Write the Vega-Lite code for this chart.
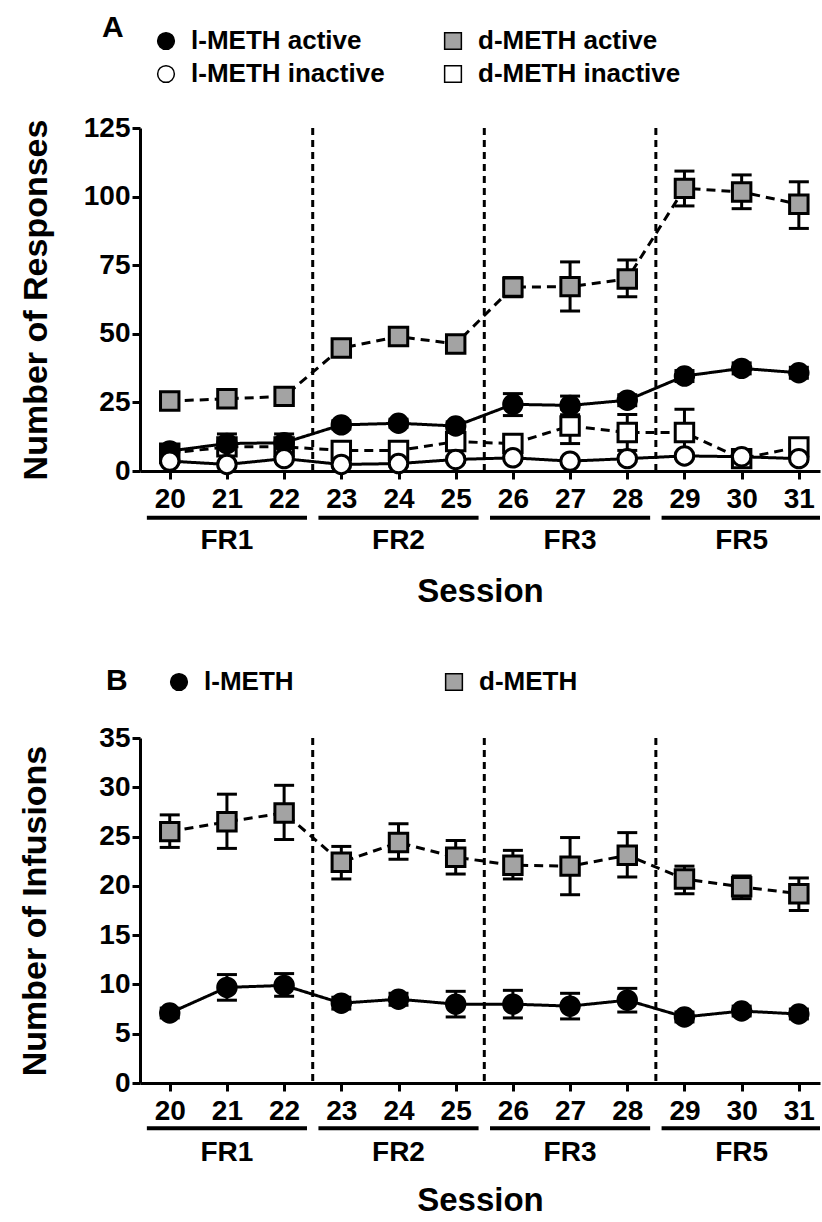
{
  "$schema": "https://vega.github.io/schema/vega-lite/v6.json",
  "padding": {"left": 18, "top": 13, "right": 0, "bottom": 0},
  "background": "white",
  "config": {
    "font": "Liberation Sans",
    "view": {"stroke": null},
    "axis": {"domainColor": "black", "domainWidth": 3, "tickColor": "black", "tickWidth": 3, "tickSize": 8, "grid": false, "labelFont": "Liberation Sans", "labelFontSize": 28, "labelFontWeight": "bold", "labelColor": "black", "titleFont": "Liberation Sans", "titleFontWeight": "bold", "titleColor": "black"},
    "legend": {"labelFont": "Liberation Sans", "labelFontSize": 26, "labelFontWeight": "bold", "labelColor": "black", "symbolSize": 280, "labelOffset": 12, "labelLimit": 400, "symbolOpacity": 1},
    "title": {"font": "Liberation Sans", "fontSize": 30, "fontWeight": "bold", "color": "black", "anchor": "start", "frame": "group"}
  },
  "datasets": {
    "dividers": [{"session": 22.5}, {"session": 25.5}, {"session": 28.5}],
    "phases": [
      {"phase": "FR1", "session": 21, "start": 19.6, "end": 22.4},
      {"phase": "FR2", "session": 24, "start": 22.6, "end": 25.4},
      {"phase": "FR3", "session": 27, "start": 25.6, "end": 28.4},
      {"phase": "FR5", "session": 30, "start": 28.6, "end": 31.37}
    ],
    "A": [
      {"session": 20, "series": "d-METH inactive", "drug": "d", "mean": 6.5, "lo": 5.0, "hi": 8.0},
      {"session": 21, "series": "d-METH inactive", "drug": "d", "mean": 8.8, "lo": 6.8, "hi": 10.8},
      {"session": 22, "series": "d-METH inactive", "drug": "d", "mean": 8.8, "lo": 6.8, "hi": 10.8},
      {"session": 23, "series": "d-METH inactive", "drug": "d", "mean": 7.5, "lo": 5.5, "hi": 9.5},
      {"session": 24, "series": "d-METH inactive", "drug": "d", "mean": 7.5, "lo": 5.5, "hi": 9.5},
      {"session": 25, "series": "d-METH inactive", "drug": "d", "mean": 10.7, "lo": 8.7, "hi": 12.7},
      {"session": 26, "series": "d-METH inactive", "drug": "d", "mean": 10.0, "lo": 8.0, "hi": 12.0},
      {"session": 27, "series": "d-METH inactive", "drug": "d", "mean": 16.4, "lo": 10.0, "hi": 22.5},
      {"session": 28, "series": "d-METH inactive", "drug": "d", "mean": 14.0, "lo": 7.5, "hi": 20.6},
      {"session": 29, "series": "d-METH inactive", "drug": "d", "mean": 14.0, "lo": 5.5, "hi": 22.5},
      {"session": 30, "series": "d-METH inactive", "drug": "d", "mean": 4.5, "lo": 1.5, "hi": 7.0},
      {"session": 31, "series": "d-METH inactive", "drug": "d", "mean": 8.8, "lo": 7.8, "hi": 9.8},
      {"session": 20, "series": "d-METH active", "drug": "d", "mean": 25.5, "lo": 24.0, "hi": 27.0},
      {"session": 21, "series": "d-METH active", "drug": "d", "mean": 26.3, "lo": 24.5, "hi": 28.1},
      {"session": 22, "series": "d-METH active", "drug": "d", "mean": 27.2, "lo": 25.2, "hi": 29.2},
      {"session": 23, "series": "d-METH active", "drug": "d", "mean": 44.8, "lo": 42.8, "hi": 46.8},
      {"session": 24, "series": "d-METH active", "drug": "d", "mean": 49.0, "lo": 47.5, "hi": 50.5},
      {"session": 25, "series": "d-METH active", "drug": "d", "mean": 46.3, "lo": 44.3, "hi": 48.3},
      {"session": 26, "series": "d-METH active", "drug": "d", "mean": 67.0, "lo": 63.5, "hi": 70.5},
      {"session": 27, "series": "d-METH active", "drug": "d", "mean": 67.2, "lo": 58.3, "hi": 76.2},
      {"session": 28, "series": "d-METH active", "drug": "d", "mean": 70.0, "lo": 63.5, "hi": 76.9},
      {"session": 29, "series": "d-METH active", "drug": "d", "mean": 103.0, "lo": 96.6, "hi": 109.3},
      {"session": 30, "series": "d-METH active", "drug": "d", "mean": 101.7, "lo": 95.6, "hi": 107.9},
      {"session": 31, "series": "d-METH active", "drug": "d", "mean": 97.2, "lo": 88.4, "hi": 105.4},
      {"session": 20, "series": "l-METH active", "drug": "l", "mean": 7.3, "lo": 5.8, "hi": 8.8},
      {"session": 21, "series": "l-METH active", "drug": "l", "mean": 10.0, "lo": 6.5, "hi": 13.5},
      {"session": 22, "series": "l-METH active", "drug": "l", "mean": 10.3, "lo": 7.1, "hi": 13.5},
      {"session": 23, "series": "l-METH active", "drug": "l", "mean": 16.8, "lo": 15.3, "hi": 18.3},
      {"session": 24, "series": "l-METH active", "drug": "l", "mean": 17.4, "lo": 15.9, "hi": 18.9},
      {"session": 25, "series": "l-METH active", "drug": "l", "mean": 16.4, "lo": 14.9, "hi": 17.9},
      {"session": 26, "series": "l-METH active", "drug": "l", "mean": 24.3, "lo": 20.2, "hi": 28.2},
      {"session": 27, "series": "l-METH active", "drug": "l", "mean": 23.9, "lo": 20.5, "hi": 27.3},
      {"session": 28, "series": "l-METH active", "drug": "l", "mean": 25.8, "lo": 23.8, "hi": 27.8},
      {"session": 29, "series": "l-METH active", "drug": "l", "mean": 34.6, "lo": 32.6, "hi": 36.6},
      {"session": 30, "series": "l-METH active", "drug": "l", "mean": 37.4, "lo": 35.4, "hi": 39.4},
      {"session": 31, "series": "l-METH active", "drug": "l", "mean": 35.8, "lo": 33.8, "hi": 37.8},
      {"session": 20, "series": "l-METH inactive", "drug": "l", "mean": 3.6, "lo": 2.6, "hi": 4.6},
      {"session": 21, "series": "l-METH inactive", "drug": "l", "mean": 2.4, "lo": 1.4, "hi": 3.4},
      {"session": 22, "series": "l-METH inactive", "drug": "l", "mean": 4.5, "lo": 3.5, "hi": 5.5},
      {"session": 23, "series": "l-METH inactive", "drug": "l", "mean": 2.4, "lo": 1.4, "hi": 3.4},
      {"session": 24, "series": "l-METH inactive", "drug": "l", "mean": 2.7, "lo": 1.7, "hi": 3.7},
      {"session": 25, "series": "l-METH inactive", "drug": "l", "mean": 4.2, "lo": 3.2, "hi": 5.2},
      {"session": 26, "series": "l-METH inactive", "drug": "l", "mean": 4.8, "lo": 3.8, "hi": 5.8},
      {"session": 27, "series": "l-METH inactive", "drug": "l", "mean": 3.6, "lo": 2.6, "hi": 4.6},
      {"session": 28, "series": "l-METH inactive", "drug": "l", "mean": 4.5, "lo": 3.5, "hi": 5.5},
      {"session": 29, "series": "l-METH inactive", "drug": "l", "mean": 5.5, "lo": 4.5, "hi": 6.5},
      {"session": 30, "series": "l-METH inactive", "drug": "l", "mean": 5.2, "lo": 4.2, "hi": 6.2},
      {"session": 31, "series": "l-METH inactive", "drug": "l", "mean": 4.5, "lo": 3.5, "hi": 5.5}
    ],
    "B": [
      {"session": 20, "series": "d-METH", "drug": "d", "mean": 25.5, "lo": 23.9, "hi": 27.2},
      {"session": 21, "series": "d-METH", "drug": "d", "mean": 26.5, "lo": 23.8, "hi": 29.3},
      {"session": 22, "series": "d-METH", "drug": "d", "mean": 27.4, "lo": 24.7, "hi": 30.2},
      {"session": 23, "series": "d-METH", "drug": "d", "mean": 22.4, "lo": 20.7, "hi": 24.0},
      {"session": 24, "series": "d-METH", "drug": "d", "mean": 24.4, "lo": 22.7, "hi": 26.3},
      {"session": 25, "series": "d-METH", "drug": "d", "mean": 22.9, "lo": 21.2, "hi": 24.6},
      {"session": 26, "series": "d-METH", "drug": "d", "mean": 22.1, "lo": 20.7, "hi": 23.6},
      {"session": 27, "series": "d-METH", "drug": "d", "mean": 22.0, "lo": 19.1, "hi": 24.9},
      {"session": 28, "series": "d-METH", "drug": "d", "mean": 23.1, "lo": 20.9, "hi": 25.4},
      {"session": 29, "series": "d-METH", "drug": "d", "mean": 20.7, "lo": 19.2, "hi": 22.0},
      {"session": 30, "series": "d-METH", "drug": "d", "mean": 19.9, "lo": 18.7, "hi": 21.0},
      {"session": 31, "series": "d-METH", "drug": "d", "mean": 19.2, "lo": 17.5, "hi": 20.8},
      {"session": 20, "series": "l-METH", "drug": "l", "mean": 7.1, "lo": 6.6, "hi": 7.6},
      {"session": 21, "series": "l-METH", "drug": "l", "mean": 9.7, "lo": 8.4, "hi": 11.0},
      {"session": 22, "series": "l-METH", "drug": "l", "mean": 9.9, "lo": 8.8, "hi": 11.1},
      {"session": 23, "series": "l-METH", "drug": "l", "mean": 8.1, "lo": 7.5, "hi": 8.7},
      {"session": 24, "series": "l-METH", "drug": "l", "mean": 8.5, "lo": 7.9, "hi": 9.1},
      {"session": 25, "series": "l-METH", "drug": "l", "mean": 8.0, "lo": 6.7, "hi": 9.3},
      {"session": 26, "series": "l-METH", "drug": "l", "mean": 8.0, "lo": 6.6, "hi": 9.4},
      {"session": 27, "series": "l-METH", "drug": "l", "mean": 7.8, "lo": 6.5, "hi": 9.1},
      {"session": 28, "series": "l-METH", "drug": "l", "mean": 8.4, "lo": 7.2, "hi": 9.6},
      {"session": 29, "series": "l-METH", "drug": "l", "mean": 6.7, "lo": 6.2, "hi": 7.2},
      {"session": 30, "series": "l-METH", "drug": "l", "mean": 7.3, "lo": 6.8, "hi": 7.8},
      {"session": 31, "series": "l-METH", "drug": "l", "mean": 7.0, "lo": 6.5, "hi": 7.5}
    ]
  },
  "spacing": 58,
  "resolve": {
    "scale": {"shape": "independent", "fill": "independent", "strokeDash": "independent"},
    "legend": {"shape": "independent", "fill": "independent", "strokeDash": "independent"}
  },
  "vconcat": [
    {
      "width": 680,
      "height": 343,
      "title": {"text": "A", "dx": -38, "offset": -15},
      "layer": [
        {
          "data": {"name": "dividers"},
          "mark": {"type": "rule", "strokeDash": [7, 5], "strokeWidth": 3, "color": "black"},
          "encoding": {
            "x": {"field": "session", "type": "quantitative", "scale": {"domain": [19.48, 31.37], "nice": false, "zero": false}, "axis": {"values": [20, 21, 22, 23, 24, 25, 26, 27, 28, 29, 30, 31], "format": "d", "labelPadding": 6, "title": "Session", "titleFontSize": 33, "titlePadding": 62}}
          }
        },
        {
          "data": {"name": "phases"},
          "mark": {"type": "rule", "strokeWidth": 4, "color": "black"},
          "encoding": {
            "x": {"field": "start", "type": "quantitative", "title": "Session"},
            "x2": {"field": "end"},
            "y": {"datum": -17, "type": "quantitative", "title": "Number of Responses"}
          }
        },
        {
          "data": {"name": "phases"},
          "mark": {"type": "text", "fontSize": 28, "fontWeight": "bold", "baseline": "middle", "color": "black"},
          "encoding": {
            "x": {"field": "session", "type": "quantitative", "title": "Session"},
            "y": {"datum": -25.5, "type": "quantitative", "title": "Number of Responses"},
            "text": {"field": "phase"}
          }
        },
        {
          "data": {"name": "A"},
          "mark": {"type": "errorbar", "ticks": {"size": 20, "thickness": 3, "color": "black", "opacity": 1}, "rule": {"color": "black", "opacity": 1}, "thickness": 3, "color": "black", "opacity": 1},
          "encoding": {
            "x": {"field": "session", "type": "quantitative", "title": "Session"},
            "y": {"field": "lo", "type": "quantitative", "title": "Number of Responses", "scale": {"domain": [0, 125], "nice": false}, "axis": {"values": [0, 25, 50, 75, 100, 125], "titleFontSize": 34, "titlePadding": 30, "labelPadding": 2}},
            "y2": {"field": "hi"},
            "detail": {"field": "series"}
          }
        },
        {
          "data": {"name": "A"},
          "mark": {"type": "line", "strokeWidth": 3, "color": "black"},
          "encoding": {
            "x": {"field": "session", "type": "quantitative", "title": "Session"},
            "y": {"field": "mean", "type": "quantitative", "title": "Number of Responses"},
            "detail": {"field": "series"},
            "strokeDash": {"field": "drug", "type": "nominal", "scale": {"domain": ["l", "d"], "range": [[1, 0], [9, 6]]}, "legend": null}
          }
        },
        {
          "data": {"name": "A"},
          "mark": {"type": "point", "filled": true, "stroke": "black", "strokeWidth": 3, "opacity": 1, "size": 340},
          "encoding": {
            "x": {"field": "session", "type": "quantitative", "title": "Session"},
            "y": {"field": "mean", "type": "quantitative", "title": "Number of Responses"},
            "shape": {"field": "series", "type": "nominal", "scale": {"domain": ["l-METH active", "l-METH inactive", "d-METH active", "d-METH inactive"], "range": ["circle", "circle", "square", "square"]}, "legend": {"title": null, "orient": "none", "legendX": 13, "legendY": -100, "columns": 2, "columnPadding": 55, "rowPadding": 7, "encode": {"symbols": {"update": {"stroke": {"value": "black"}, "strokeWidth": {"value": 3}}}}}},
            "fill": {"field": "series", "type": "nominal", "scale": {"domain": ["l-METH active", "l-METH inactive", "d-METH active", "d-METH inactive"], "range": ["black", "white", "#a3a3a3", "white"]}, "legend": {"title": null, "orient": "none", "legendX": 13, "legendY": -100, "columns": 2, "columnPadding": 55, "rowPadding": 7, "encode": {"symbols": {"update": {"stroke": {"value": "black"}, "strokeWidth": {"value": 3}}}}}}
          }
        }
      ]
    },
    {
      "width": 680,
      "height": 345,
      "title": {"text": "B", "dx": -34, "offset": -27},
      "layer": [
        {
          "data": {"name": "dividers"},
          "mark": {"type": "rule", "strokeDash": [7, 5], "strokeWidth": 3, "color": "black"},
          "encoding": {
            "x": {"field": "session", "type": "quantitative", "scale": {"domain": [19.48, 31.37], "nice": false, "zero": false}, "axis": {"values": [20, 21, 22, 23, 24, 25, 26, 27, 28, 29, 30, 31], "format": "d", "labelPadding": 6, "title": "Session", "titleFontSize": 33, "titlePadding": 59}}
          }
        },
        {
          "data": {"name": "phases"},
          "mark": {"type": "rule", "strokeWidth": 4, "color": "black"},
          "encoding": {
            "x": {"field": "start", "type": "quantitative", "title": "Session"},
            "x2": {"field": "end"},
            "y": {"datum": -4.6, "type": "quantitative", "title": "Number of Infusions"}
          }
        },
        {
          "data": {"name": "phases"},
          "mark": {"type": "text", "fontSize": 28, "fontWeight": "bold", "baseline": "middle", "color": "black"},
          "encoding": {
            "x": {"field": "session", "type": "quantitative", "title": "Session"},
            "y": {"datum": -7.1, "type": "quantitative", "title": "Number of Infusions"},
            "text": {"field": "phase"}
          }
        },
        {
          "data": {"name": "B"},
          "mark": {"type": "errorbar", "ticks": {"size": 20, "thickness": 3, "color": "black", "opacity": 1}, "rule": {"color": "black", "opacity": 1}, "thickness": 3, "color": "black", "opacity": 1},
          "encoding": {
            "x": {"field": "session", "type": "quantitative", "title": "Session"},
            "y": {"field": "lo", "type": "quantitative", "title": "Number of Infusions", "scale": {"domain": [0, 35], "nice": false}, "axis": {"values": [0, 5, 10, 15, 20, 25, 30, 35], "titleFontSize": 34, "titlePadding": 46, "labelPadding": 2}},
            "y2": {"field": "hi"},
            "detail": {"field": "series"}
          }
        },
        {
          "data": {"name": "B"},
          "mark": {"type": "line", "strokeWidth": 3, "color": "black"},
          "encoding": {
            "x": {"field": "session", "type": "quantitative", "title": "Session"},
            "y": {"field": "mean", "type": "quantitative", "title": "Number of Infusions"},
            "detail": {"field": "series"},
            "strokeDash": {"field": "drug", "type": "nominal", "scale": {"domain": ["l", "d"], "range": [[1, 0], [9, 6]]}, "legend": null}
          }
        },
        {
          "data": {"name": "B"},
          "mark": {"type": "point", "filled": true, "stroke": "black", "strokeWidth": 3, "opacity": 1, "size": 340},
          "encoding": {
            "x": {"field": "session", "type": "quantitative", "title": "Session"},
            "y": {"field": "mean", "type": "quantitative", "title": "Number of Infusions"},
            "shape": {"field": "series", "type": "nominal", "scale": {"domain": ["l-METH", "d-METH"], "range": ["circle", "square"]}, "legend": {"title": null, "orient": "none", "legendX": 26, "legendY": -69, "columns": 2, "columnPadding": 147, "encode": {"symbols": {"update": {"stroke": {"value": "black"}, "strokeWidth": {"value": 3}}}}}},
            "fill": {"field": "series", "type": "nominal", "scale": {"domain": ["l-METH", "d-METH"], "range": ["black", "#a3a3a3"]}, "legend": {"title": null, "orient": "none", "legendX": 26, "legendY": -69, "columns": 2, "columnPadding": 147, "encode": {"symbols": {"update": {"stroke": {"value": "black"}, "strokeWidth": {"value": 3}}}}}}
          }
        }
      ]
    }
  ]
}
